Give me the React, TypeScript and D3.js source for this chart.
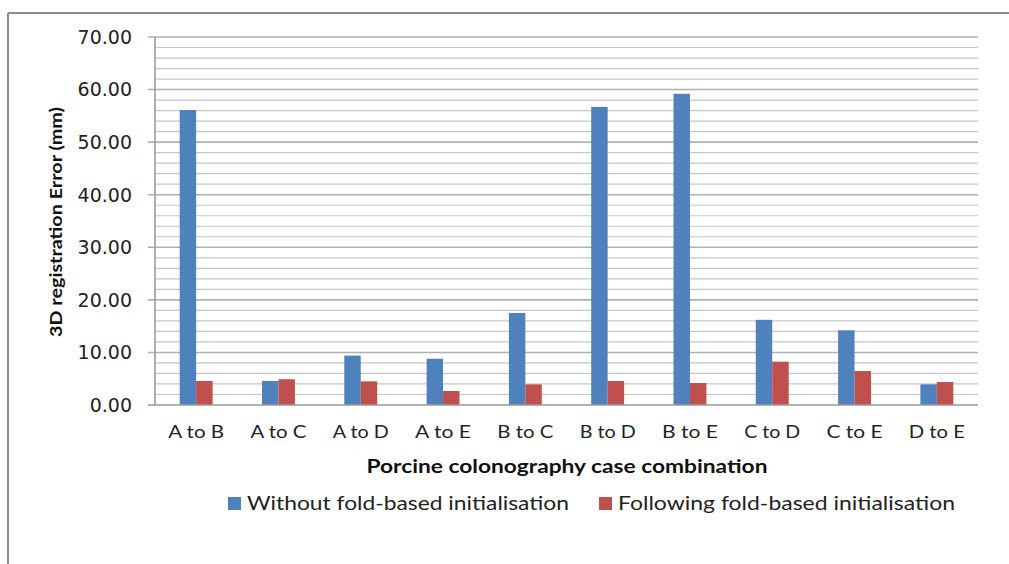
import React from "react";
import * as d3 from "d3";

const categories = ["A to B", "A to C", "A to D", "A to E", "B to C", "B to D", "B to E", "C to D", "C to E", "D to E"];
const withoutFold = [56.1, 4.57, 9.4, 8.8, 17.5, 56.7, 59.2, 16.2, 14.2, 3.93];
const followingFold = [4.57, 4.9, 4.5, 2.66, 3.93, 4.57, 4.18, 8.24, 6.47, 4.37];
const seriesNames = ["Without fold-based initialisation", "Following fold-based initialisation"];
const yMajorTicks = [0, 10, 20, 30, 40, 50, 60, 70];
const yMinorTicks = d3.range(0, 71, 2);
const xTitle = "Porcine colonography case combination";
const yTitle = "3D registration Error (mm)";

const W = 1009, H = 564;
const left = 155, right = 978, top = 37, bottom = 405;
const colors = ["#4f81bd", "#c0504d"];
const font = "Lato, 'Open Sans', sans-serif";

export default function App() {
  const y = d3.scaleLinear().domain([0, 70]).range([bottom, top]);
  const x = d3.scaleBand<string>().domain(categories).range([left, right]).paddingInner(0).paddingOuter(0);
  const inner = d3.scaleBand<string>().domain(["s0", "s1"]).range([0, x.bandwidth()]).paddingInner(0).paddingOuter(1.5);
  const series = [withoutFold, followingFold];

  return (
    <svg width={W} height={H} style={{ position: "absolute", left: 0, top: 0, display: "block" }} fontFamily={font}>
      <rect x={0} y={0} width={W} height={H} fill="#fff" />
      {/* outer frame */}
      <line x1={8} x2={W} y1={13} y2={13} stroke="#8c8c8c" strokeWidth={2} />
      <line x1={8} x2={8} y1={13} y2={H} stroke="#8c8c8c" strokeWidth={2} />

      {/* minor gridlines */}
      {yMinorTicks.filter(t => t % 10 !== 0).map(t => (
        <line key={"m" + t} x1={left} x2={right} y1={y(t)} y2={y(t)} stroke="#c6c6c6" strokeWidth={1.2} />
      ))}
      {/* major gridlines */}
      {yMajorTicks.filter(t => t !== 0).map(t => (
        <line key={"M" + t} x1={left - 7} x2={right} y1={y(t)} y2={y(t)} stroke="#b0b0b0" strokeWidth={1.6} />
      ))}

      {/* bars */}
      {series.map((vals, si) =>
        categories.map((c, ci) => (
          <rect
            key={si + "-" + ci}
            x={(x(c) as number) + (inner("s" + si) as number)}
            y={y(vals[ci])}
            width={inner.bandwidth()}
            height={y(0) - y(vals[ci])}
            fill={colors[si]}
          />
        ))
      )}

      {/* axes */}
      <line x1={left} x2={left} y1={top} y2={bottom} stroke="#9a9a9a" strokeWidth={1.6} />
      <line x1={left - 7} x2={right} y1={bottom} y2={bottom} stroke="#9a9a9a" strokeWidth={1.6} />

      {/* y tick labels */}
      {yMajorTicks.map(t => (
        <text key={"yl" + t} x={132} y={y(t)} dy="0.36em" textAnchor="end" fontSize={19} fill="#222"
          fontFamily="'DejaVu Sans', sans-serif">
          {t.toFixed(2)}
        </text>
      ))}

      {/* x tick labels */}
      {categories.map(c => (
        <text key={"xl" + c} x={(x(c) as number) + x.bandwidth() / 2} y={438} textAnchor="middle" fontSize={17} fill="#222"
          textLength={56} lengthAdjust="spacingAndGlyphs">
          {c}
        </text>
      ))}

      {/* axis titles */}
      <text x={567} y={473} textAnchor="middle" fontSize={19} fontWeight="bold" fill="#111"
        textLength={401} lengthAdjust="spacingAndGlyphs">{xTitle}</text>
      <text transform={`translate(62, 222) rotate(-90)`} textAnchor="middle" fontSize={17} fontWeight="bold" fill="#111"
        textLength={230} lengthAdjust="spacingAndGlyphs">{yTitle}</text>

      {/* legend */}
      <rect x={228} y={497} width={13} height={13} fill={colors[0]} />
      <text x={247} y={510} fontSize={19} fill="#222" textLength={322} lengthAdjust="spacingAndGlyphs">{seriesNames[0]}</text>
      <rect x={599} y={497} width={13} height={13} fill={colors[1]} />
      <text x={618} y={510} fontSize={19} fill="#222" textLength={337} lengthAdjust="spacingAndGlyphs">{seriesNames[1]}</text>
    </svg>
  );
}
